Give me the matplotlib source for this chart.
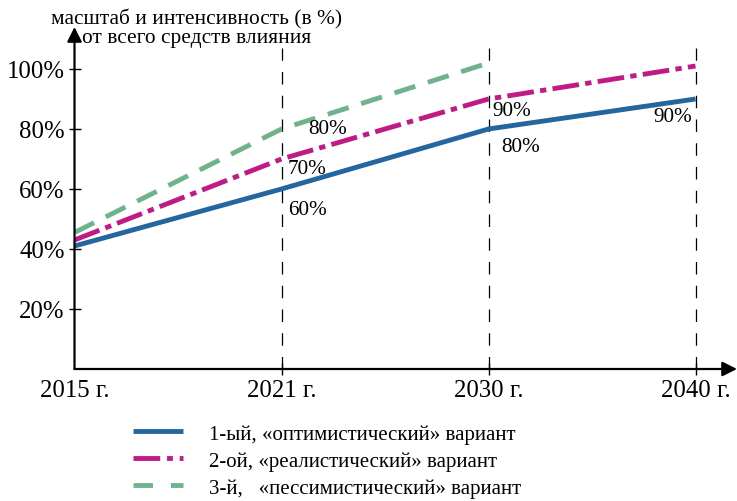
import matplotlib
matplotlib.use('Agg')
import matplotlib.pyplot as plt
from matplotlib.lines import Line2D

plt.rcParams['font.family'] = ['Liberation Serif', 'DejaVu Serif']

# Data
years = ['2015 г.', '2021 г.', '2030 г.', '2040 г.']
optimistic = [41, 60, 80, 90]
realistic = [43, 70, 90, 101]
pessimistic = [45.5, 80, 102]
y_ticks = [20, 40, 60, 80, 100]

# value labels next to the points: (x index, y position, text, alignment)
value_labels = [
    (1.03, 53.3, '60%', 'left'),
    (1.03, 66.7, '70%', 'left'),
    (1.13, 80.0, '80%', 'left'),
    (2.02, 86.0, '90%', 'left'),
    (2.06, 74.3, '80%', 'left'),
    (2.985, 84.0, '90%', 'right'),
]

labels = ['1-ый, «оптимистический» вариант',
          '2-ой, «реалистический» вариант',
          '3-й,   «пессимистический» вариант']

blue = '#23679e'
magenta = '#c01a84'
green = '#6fb38c'

fig = plt.figure(figsize=(7.37, 5.02), dpi=100)
ax = fig.add_axes([74.5 / 737, 132 / 502, 662.5 / 737, 342 / 502])
ax.set_xlim(0, 662.5 / 207)
ax.set_ylim(0, 114)

x = list(range(len(years)))

# dashed guide lines at each year
for xi in x[1:]:
    ax.plot([xi, xi], [0, 107], color='black', lw=0.9, linestyle=(0, (10, 9)))

ax.plot(x, optimistic, color=blue, lw=3.5, solid_capstyle='butt')
ax.plot(x, realistic, color=magenta, lw=3.5, linestyle=(0, (5.5, 1.3, 1.3, 1.3)))
ax.plot(x[:len(pessimistic)], pessimistic, color=green, lw=3.5, linestyle=(0, (4.5, 2.7)))

for xv, yv, txt, ha in value_labels:
    ax.text(xv, yv, txt, ha=ha, va='center', fontsize=15.3)

# axes drawn as arrows
for s in ax.spines.values():
    s.set_visible(False)
ax.annotate('', xy=(1, 0), xytext=(0, 0), xycoords='axes fraction',
            arrowprops=dict(arrowstyle='-|>', color='black', lw=1.6,
                            mutation_scale=22, shrinkA=0, shrinkB=0))
ax.annotate('', xy=(0, 1), xytext=(0, 0), xycoords='axes fraction',
            arrowprops=dict(arrowstyle='-|>', color='black', lw=1.6,
                            mutation_scale=22, shrinkA=0, shrinkB=0))

ax.set_xticks(x)
ax.set_xticklabels(years, fontsize=17.8)
ax.set_yticks(y_ticks)
ax.set_yticklabels([f'{v}%' for v in y_ticks], fontsize=17.8)
ax.tick_params(direction='inout', length=8, width=1, pad=3)
ax.xaxis.get_major_ticks()[0].tick1line.set_visible(False)

fig.text(197 / 737, 1 - 28.5 / 502,
         'масштаб и интенсивность (в %)\nот всего средств влияния',
         ha='center', va='center', fontsize=15.4, linespacing=1.0)

handles = [
    Line2D([], [], color=blue, lw=3.5, solid_capstyle='butt'),
    Line2D([], [], color=magenta, lw=3.5, linestyle=(0, (5.5, 1.4, 1.2, 1.4, 1.2, 3))),
    Line2D([], [], color=green, lw=3.5, linestyle=(0, (4, 3.7))),
]
fig.legend(handles, labels, loc='upper left', bbox_to_anchor=(133 / 737, 1 - 425 / 502),
           frameon=False, fontsize=15, handlelength=2.4, handletextpad=1.25,
           labelspacing=0.36, borderaxespad=0, borderpad=0)

fig.savefig('out.png', dpi=100)
